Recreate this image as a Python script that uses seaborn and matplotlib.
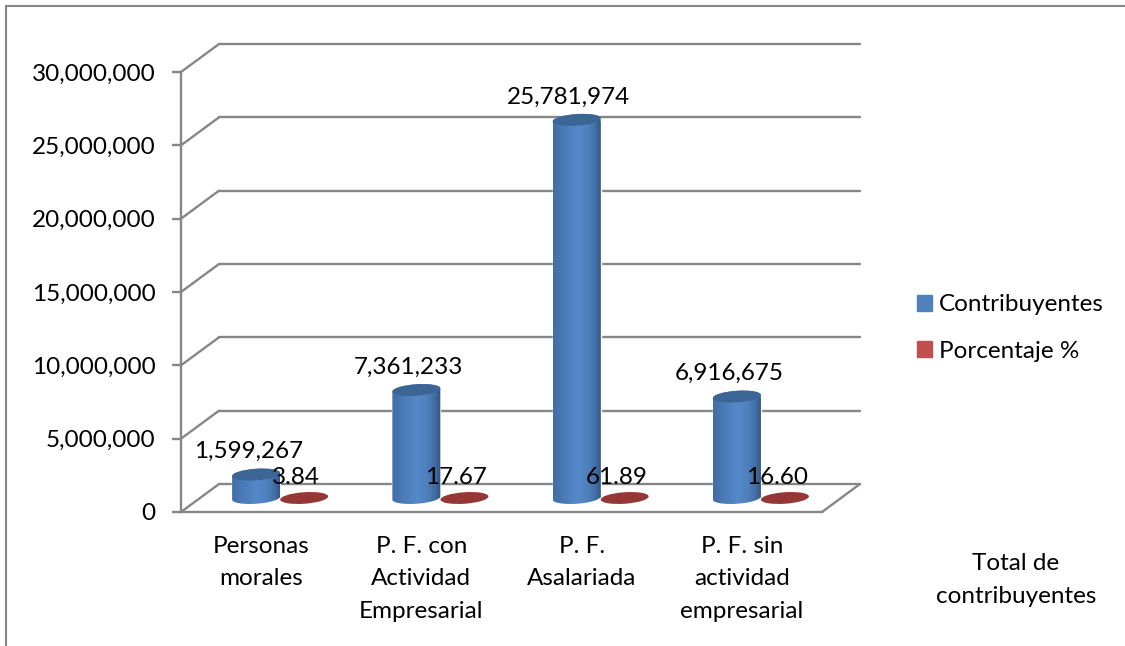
import numpy as np
import pandas as pd
import seaborn as sns
import matplotlib.pyplot as plt
from matplotlib.lines import Line2D
from matplotlib.patches import Ellipse, PathPatch
from matplotlib.path import Path
from matplotlib.ticker import StrMethodFormatter
from matplotlib.transforms import Affine2D, IdentityTransform

categorias = ["Personas\nmorales", "P. F. con\nActividad\nEmpresarial", "P. F.\nAsalariada", "P. F. sin\nactividad\nempresarial"]
contribuyentes = [1599267, 7361233, 25781974, 6916675]
porcentaje = [3.84, 17.67, 61.89, 16.60]
porcentaje_txt = ["3.84", "17.67", "61.89", "16.60"]
series = ["Contribuyentes", "Porcentaje %"]
yticks = [0, 5000000, 10000000, 15000000, 20000000, 25000000, 30000000]

W, H = 1125, 646
GRIS = "#868686"
FS = 17.5
LW = 1.7

sns.set_theme(style="white")
plt.rcParams["font.family"] = ["Lato", "DejaVu Sans"]
plt.rcParams["text.color"] = "black"
plt.rcParams["xtick.labelcolor"] = "black"
plt.rcParams["ytick.labelcolor"] = "black"

df = pd.DataFrame({
    "cat": categorias * 2,
    "serie": [series[0]] * 4 + [series[1]] * 4,
    "valor": contribuyentes + porcentaje,
})

fig = plt.figure(figsize=(W / 100, H / 100), dpi=100, facecolor="white")
ax = fig.add_axes([181 / W, 1 - 512 / H, 641 / W, 440 / H])
sns.barplot(data=df, x="cat", y="valor", hue="serie", hue_order=series,
            palette=["#4F81BD", "#C0504D"], width=0.6, gap=0, saturation=1, ax=ax)
ax.set_xlim(-0.5, 3.5)
ax.set_ylim(0, 30000000)

# depth of the fake 3d box, in data units
dx = 38 / (641 / 4)
dy = 28 * 30000000 / 440

for v in yticks:
    ax.plot([-0.5, -0.5 + dx], [v, v + dy], color=GRIS, lw=LW, clip_on=False, zorder=1)
    ax.plot([-0.5 + dx, 3.5 + dx], [v + dy, v + dy], color=GRIS, lw=LW, clip_on=False, zorder=1)
ax.plot([3.5, 3.5 + dx], [0, dy], color=GRIS, lw=LW, clip_on=False, zorder=1)

ax.set_xlabel("")
ax.set_ylabel("")
ax.set_yticks(yticks)
ax.yaxis.set_major_formatter(StrMethodFormatter("{x:,.0f}"))
ax.set_xticks(range(4))
ax.set_xticklabels(categorias, linespacing=1.68)
ax.set_xticks([-0.5, 0.5, 1.5, 2.5, 3.5], minor=True)
ax.tick_params(axis="x", which="major", length=0, pad=17, labelsize=FS)
ax.tick_params(axis="x", which="minor", length=5.5, width=1.2, color=GRIS)
ax.tick_params(axis="y", length=6.5, width=LW, color=GRIS, left=True, pad=12, labelsize=FS)
for lab in ax.get_yticklabels():
    lab.set_va("center_baseline")
sns.despine(ax=ax)
for s in ["left", "bottom"]:
    ax.spines[s].set_color(GRIS)
    ax.spines[s].set_linewidth(LW)
ax.patch.set_alpha(0)

grad_azul = np.array([0.0, 0.18, 0.5, 0.72, 0.88, 1.0])
col_azul = np.array([[0.26, 0.43, 0.65], [0.29, 0.47, 0.71], [0.33, 0.54, 0.79],
                     [0.31, 0.50, 0.74], [0.26, 0.43, 0.64], [0.20, 0.33, 0.50]])
xs = np.linspace(0, 1, 64)
gradiente = np.stack([np.interp(xs, grad_azul, col_azul[:, i]) for i in range(3)], axis=1)[None, :, :]

ELL_H = 11.5
TILT = 4


def ellipse_pts(cx, cy, w, h, a, b):
    t = np.radians(np.linspace(a, b, 40))
    p = np.column_stack([w / 2 * np.cos(t), h / 2 * np.sin(t)])
    return Affine2D().rotate_deg(TILT).translate(cx, cy).transform(p)


def ellipse(cx, cy, w, color, z):
    e = Ellipse((0, 0), w, ELL_H, angle=TILT, facecolor=color, edgecolor="none", zorder=z,
                transform=Affine2D().translate(cx, cy))
    e.set_clip_on(False)
    ax.add_artist(e)


azules, rojos = ax.containers[0], ax.containers[1]
fig.canvas.draw()

for i in range(4):
    for bar in (azules[i], rojos[i]):
        bar.set_x(bar.get_x() + dx / 2)
        bar.set_y(dy / 2)
        bar.set_zorder(2)
        bar.set_clip_on(False)

    # blue cylinder
    b = azules[i]
    x0, ybase = ax.transData.transform((b.get_x(), dy / 2))
    x1, ytop = ax.transData.transform((b.get_x() + b.get_width(), dy / 2 + b.get_height()))
    cx = (x0 + x1) / 2
    w = x1 - x0
    base = ellipse_pts(cx, ybase, w, ELL_H, 180, 360)
    top = ellipse_pts(cx, ytop, w, ELL_H, 0, 180)
    verts = np.vstack([base, top, base[:1]])
    codes = [Path.MOVETO] + [Path.LINETO] * (len(verts) - 2) + [Path.CLOSEPOLY]
    cuerpo = PathPatch(Path(verts, codes), transform=IdentityTransform(), facecolor="none",
                       edgecolor="none", zorder=3)
    ax.add_artist(cuerpo)
    im = ax.imshow(gradiente, extent=(x0, x1, ybase - 10, ytop + 10), aspect="auto",
                   transform=IdentityTransform(), zorder=3, interpolation="bilinear")
    im.set_clip_path(cuerpo)
    ellipse(cx, ytop, w, "#3A6595", 4)

    # red disc, the bar is too low to show a body
    r = rojos[i]
    rx = r.get_x() + r.get_width() / 2
    px, py = ax.transData.transform((rx, dy / 2 + r.get_height()))
    ellipse(px, py, r.get_width() * 641 / 4, "#953735", 4)

    ax.annotate(f"{contribuyentes[i]:,}", xy=(b.get_x() + b.get_width() / 2, dy / 2 + b.get_height()),
                xytext=(-5.5, 16.5), textcoords="offset points", ha="center", va="center",
                fontsize=FS, zorder=6, annotation_clip=False)
    ax.annotate(porcentaje_txt[i], xy=(rx, dy / 2 + r.get_height()),
                xytext=(-6, 14.5), textcoords="offset points", ha="center", va="center",
                fontsize=FS, zorder=6, annotation_clip=False)

ax.set_xlim(-0.5, 3.5)
ax.set_ylim(0, 30000000)

handles = [plt.Rectangle((0, 0), 1, 1, color="#4F81BD"), plt.Rectangle((0, 0), 1, 1, color="#C0504D")]
ax.legend(handles, series, loc="center left", bbox_to_anchor=(917 / W, 1 - 328 / H),
          bbox_transform=fig.transFigure, frameon=False, fontsize=FS, handlelength=0.62,
          handleheight=0.62, handletextpad=0.29, labelspacing=1.04, borderpad=0, borderaxespad=0)

fig.text(1016 / W, 1 - 580 / H, "Total de\ncontribuyentes", ha="center", va="center",
         fontsize=FS, linespacing=1.7)

# outer frame of the chart, only top and left are inside the picture
for xx, yy in [([6, 6], [646, 6]), ([6, 1125], [6, 6])]:
    fig.add_artist(Line2D([p / W for p in xx], [1 - p / H for p in yy], color=GRIS, lw=1.5))

fig.savefig("out.png", dpi=100)
